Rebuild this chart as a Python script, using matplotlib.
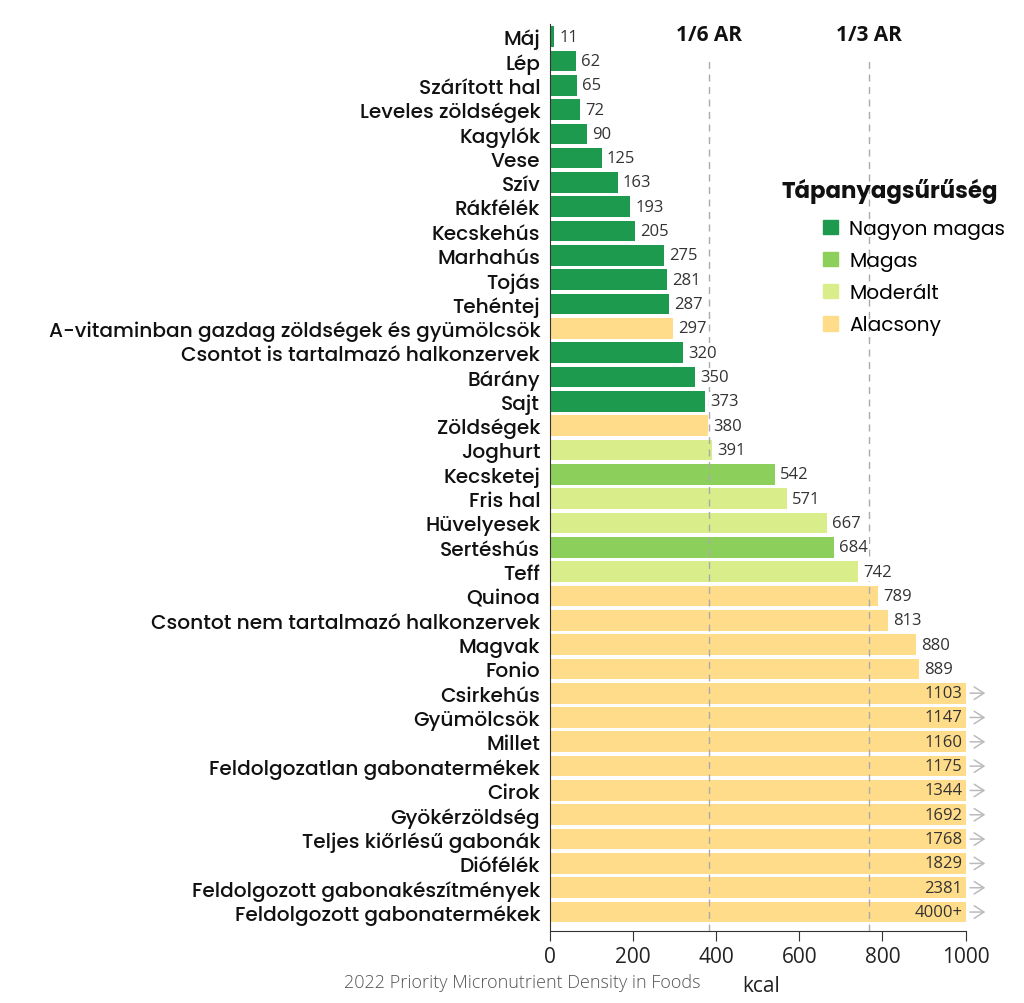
import matplotlib.pyplot as plt
from matplotlib.patches import Patch

foods = ["Máj", "Lép", "Szárított hal", "Leveles zöldségek", "Kagylók", "Vese", "Szív",
         "Rákfélék", "Kecskehús", "Marhahús", "Tojás", "Tehéntej",
         "A-vitaminban gazdag zöldségek és gyümölcsök", "Csontot is tartalmazó halkonzervek",
         "Bárány", "Sajt", "Zöldségek", "Joghurt", "Kecsketej", "Fris hal", "Hüvelyesek",
         "Sertéshús", "Teff", "Quinoa", "Csontot nem tartalmazó halkonzervek", "Magvak",
         "Fonio", "Csirkehús", "Gyümölcsök", "Millet", "Feldolgozatlan gabonatermékek",
         "Cirok", "Gyökérzöldség", "Teljes kiőrlésű gabonák", "Diófélék",
         "Feldolgozott gabonakészítmények", "Feldolgozott gabonatermékek"]
kcal = [11, 62, 65, 72, 90, 125, 163, 193, 205, 275, 281, 287, 297, 320, 350, 373, 380,
        391, 542, 571, 667, 684, 742, 789, 813, 880, 889, 1103, 1147, 1160, 1175, 1344,
        1692, 1768, 1829, 2381, 4000]
value_labels = [str(v) for v in kcal[:-1]] + ["4000+"]
density = ["NM"] * 12 + ["A", "NM", "NM", "NM", "A", "Mo", "Ma", "Mo", "Mo", "Ma", "Mo"] + ["A"] * 14

categories = ["Nagyon magas", "Magas", "Moderált", "Alacsony"]
cat_keys = ["NM", "Ma", "Mo", "A"]
colors = {"NM": "#1e9a4f", "Ma": "#8dcf5b", "Mo": "#d9ee8b", "A": "#fedc8a"}

ar_lines = [2300 / 6, 2300 / 3]
ar_labels = ["1/6 AR", "1/3 AR"]
xmax = 1000

plt.rcParams['font.family'] = ['Poppins', 'Open Sans', 'DejaVu Sans']
num_font = ['Open Sans', 'DejaVu Sans']

fig = plt.figure(figsize=(10.24, 10.04), dpi=100)
ax = fig.add_axes([0.537, 0.0717, 0.406, 0.903])

y = list(range(len(foods)))
shown = [min(v, xmax) for v in kcal]
ax.barh(y, shown, height=0.85, color=[colors[d] for d in density], zorder=2)

for i, v in enumerate(kcal):
    if v > xmax:
        ax.text(xmax - 8, i, value_labels[i], ha='right', va='center', fontsize=12,
                color='#333333', family=num_font, zorder=5)
        ax.annotate("", xy=(xmax + 54, i), xytext=(xmax + 4, i),
                    arrowprops=dict(arrowstyle='->,head_length=0.7,head_width=0.45',
                                    color='#bbbbbb', lw=1.1),
                    annotation_clip=False)
    else:
        ax.text(v + 12, i, value_labels[i], ha='left', va='center', fontsize=12,
                color='#333333', family=num_font, zorder=5,
                bbox=dict(facecolor='white', edgecolor='none', pad=1))

for xv, lab in zip(ar_lines, ar_labels):
    ax.axvline(xv, ymin=0, ymax=0.96, color='#aaaaaa', lw=1, ls=(0, (5, 4)), zorder=3)
    ax.text(xv, -0.1, lab, ha='center', va='center', fontsize=15, fontweight='bold',
            color='#111111', family=num_font)

ax.set_yticks(y)
ax.set_yticklabels(foods, fontsize=14.5, fontweight='medium', color='#111111')
ax.tick_params(axis='y', length=0, pad=7)
ax.set_ylim(36.78, -0.5)
ax.set_xlim(0, xmax)
ax.set_xticks([0, 200, 400, 600, 800, 1000])
ax.tick_params(axis='x', labelsize=15, length=7, colors='#333333', labelcolor='#222222')
for t in ax.get_xticklabels():
    t.set_family(num_font)

for s in ['top', 'right']:
    ax.spines[s].set_visible(False)
ax.spines['left'].set_color('#333333')
ax.spines['bottom'].set_color('#333333')

fig.text(0.763, 0.809, "Tápanyagsűrűség", fontsize=16.5, fontweight='bold', color='#111111',
         va='center')
handles = [Patch(color=colors[k]) for k in cat_keys]
fig.legend(handles, categories, loc='upper left', bbox_to_anchor=(0.786, 0.799),
           frameon=False, fontsize=14.5, handlelength=0.75, handleheight=0.75,
           labelspacing=0.6, handletextpad=0.55)

fig.text(0.51, 0.016, "2022 Priority Micronutrient Density in Foods", fontsize=13,
         color='#555555', ha='center', fontweight='light', family=num_font)
fig.text(0.725, 0.012, "kcal", fontsize=15, color='#222222', family=num_font)

fig.savefig("out.png", dpi=100)
